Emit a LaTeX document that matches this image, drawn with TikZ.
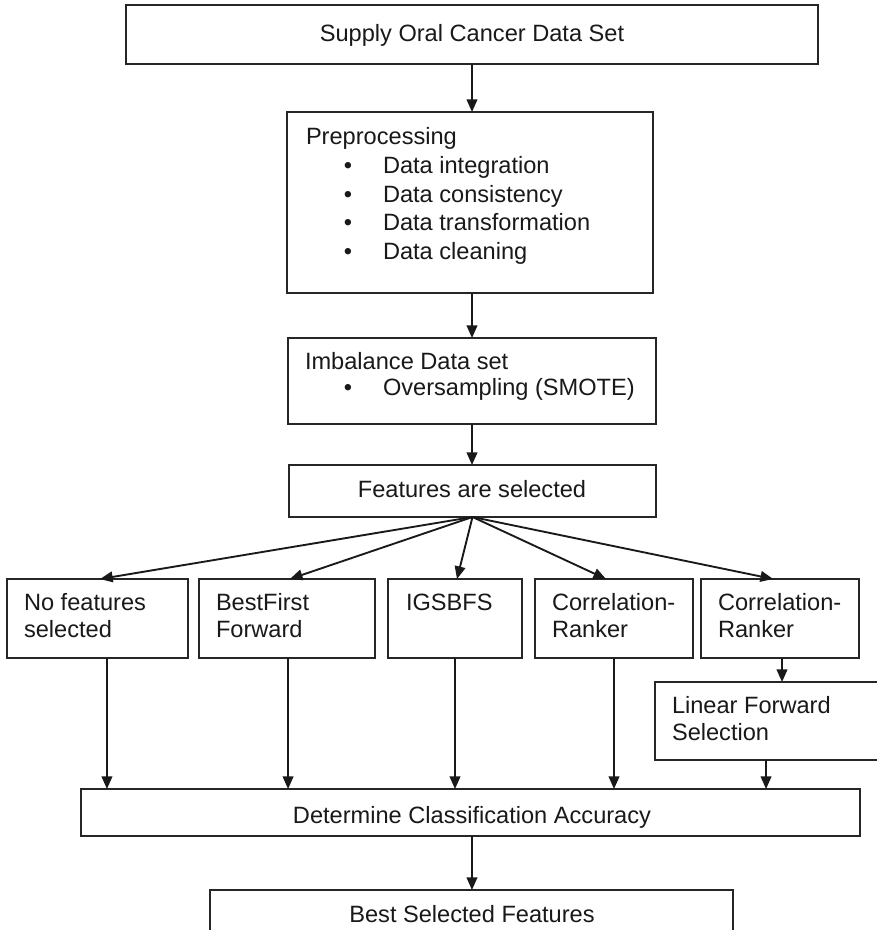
\documentclass[tikz,border=0pt]{standalone}
\usepackage{fontspec}
\setmainfont{Liberation Sans}
\usetikzlibrary{arrows.meta}
% rectangle node from corner (x1,y1) to corner (x2,y2), in pixel units
\newcommand\boxat[5]{%
  \node[box, minimum width={(#4-#2)*0.75pt}, minimum height={(#5-#3)*0.75pt}]
    (#1) at ({(#2+#4)/2},{(#3+#5)/2}) {};}
\begin{document}
\begin{tikzpicture}[x=0.75pt,y=-0.75pt,
  box/.style={draw=black!85, line width=1.1pt, inner sep=0pt, outer sep=0pt},
  txt/.style={inner sep=0pt, outer sep=0pt, font=\fontsize{17.7}{20}\selectfont, text=black!90},
  arr/.style={draw=black!90, line width=1.4pt, -{Triangle[length=9.5pt,width=8pt]}}]

\fill[white] (0,0) rectangle (876,930);
\useasboundingbox (0,0) rectangle (876,930);

% boxes
\boxat{top}{126}{5}{818}{64}
\boxat{pre}{287}{112}{653}{293}
\boxat{imb}{288}{338}{656}{424}
\boxat{feat}{289}{465}{656}{517}
\boxat{nf}{7}{579}{188}{658}
\boxat{bf}{199}{579}{375}{658}
\boxat{ig}{388}{579}{522}{658}
\boxat{cra}{535}{579}{693}{658}
\boxat{crb}{701}{579}{859}{658}
\boxat{lfs}{655}{682}{900}{760}
\boxat{det}{81}{789}{860}{836}
\boxat{best}{210}{890}{733}{960}

% texts
\node[txt, anchor=base] at (472,42) {Supply Oral Cancer Data Set};

\node[txt, anchor=base west] at (306,145) {Preprocessing};
\foreach \yy/\tt in {174/Data integration, 203/Data consistency,
                     231/Data transformation, 260/Data cleaning}{
  \node[txt, anchor=base] at (348,\yy) {•};
  \node[txt, anchor=base west] at (383,\yy) {\tt};
}

\node[txt, anchor=base west] at (305,369) {Imbalance Data set};
\node[txt, anchor=base] at (348,395) {•};
\node[txt, anchor=base west] at (383,395) {Oversampling (SMOTE)};

\node[txt, anchor=base] at (472,497) {Features are selected};

\node[txt, anchor=base west] at (24,610) {No features};
\node[txt, anchor=base west] at (24,637) {selected};
\node[txt, anchor=base west] at (216,610) {BestFirst};
\node[txt, anchor=base west] at (216,637) {Forward};
\node[txt, anchor=base west] at (406,610) {IGSBFS};
\node[txt, anchor=base west] at (552,610) {Correlation-};
\node[txt, anchor=base west] at (552,637) {Ranker};
\node[txt, anchor=base west] at (718,610) {Correlation-};
\node[txt, anchor=base west] at (718,637) {Ranker};
\node[txt, anchor=base west] at (672,713) {Linear Forward};
\node[txt, anchor=base west] at (672,740) {Selection};

\node[txt, anchor=base] at (472,823) {Determine Classification Accuracy};
\node[txt, anchor=base] at (472,922) {Best Selected Features};

% connectors
\draw[arr] (top.south) -- (top.south |- pre.north);
\draw[arr] ([xshift=1.5pt]pre.south) -- ([xshift=1.5pt]pre.south |- imb.north);
\draw[arr] (imb.south) -- (imb.south |- feat.north);

\draw[arr] (feat.south) -- ([xshift=1.9pt]nf.north);
\draw[arr] (feat.south) -- ([xshift=2.2pt]bf.north);
\draw[arr] (feat.south) -- ([xshift=1.5pt]ig.north);
\draw[arr] (feat.south) -- ([xshift=-6pt]cra.north);
\draw[arr] (feat.south) -- ([xshift=-5.2pt]crb.north);
\draw[arr] ([xshift=1.5pt]crb.south) -- ([xshift=1.5pt]crb.south |- lfs.north);

\draw[arr] ([xshift=7.1pt]nf.south) coordinate (a1) -- (a1 |- det.north);
\draw[arr] ([xshift=0.8pt]bf.south) coordinate (a2) -- (a2 |- det.north);
\draw[arr] (ig.south) -- (ig.south |- det.north);
\draw[arr] (cra.south) -- (cra.south |- det.north);
\draw[arr] ([xshift=-8.6pt]lfs.south) coordinate (a5) -- (a5 |- det.north);

\draw[arr] ([xshift=1.1pt]det.south) coordinate (a6) -- (a6 |- best.north);
\end{tikzpicture}
\end{document}
